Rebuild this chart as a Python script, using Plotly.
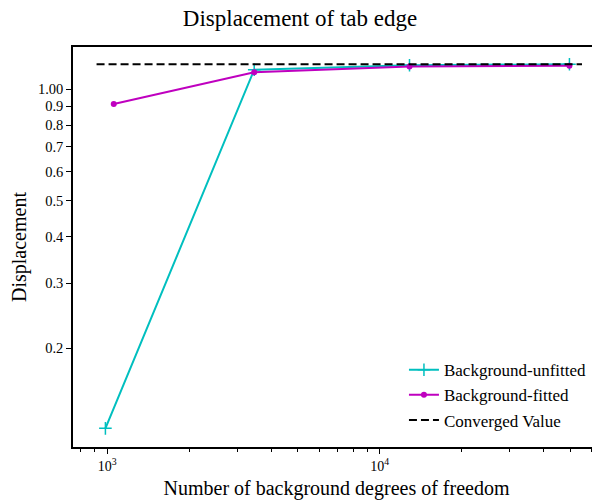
import plotly.graph_objects as go

# Data
unfitted_dof = [986, 3465, 12860, 49650]
unfitted_disp = [0.1217, 1.129, 1.161, 1.168]
fitted_dof = [1058, 3465, 12860, 49650]
fitted_disp = [0.913, 1.111, 1.151, 1.158]
converged_dof = [915, 55200]
converged_disp = [1.168, 1.168]

y_tickvals = [0.2, 0.3, 0.4, 0.5, 0.6, 0.7, 0.8, 0.9, 1.0]
y_ticktext = ["0.2", "0.3", "0.4", "0.5", "0.6", "0.7", "0.8", "0.9", "1.00"]
x_tickvals = [1000, 10000]
x_ticktext = ["10<sup>3</sup>", "10<sup>4</sup>"]
x_minor = [800, 900, 2000, 3000, 4000, 5000, 6000, 7000, 8000, 9000,
           20000, 30000, 40000, 50000, 60000]

FONT = "Liberation Serif"
CYAN = "#00BFBF"
MAGENTA = "#BF00BF"

fig = go.Figure()
fig.add_trace(go.Scatter(
    x=unfitted_dof, y=unfitted_disp, mode="lines+markers",
    name="Background-unfitted",
    line=dict(color=CYAN, width=2),
    marker=dict(symbol="cross-thin", size=9, line=dict(color=CYAN, width=1.5), color=CYAN),
))
fig.add_trace(go.Scatter(
    x=fitted_dof, y=fitted_disp, mode="lines+markers",
    name="Background-fitted",
    line=dict(color=MAGENTA, width=2),
    marker=dict(symbol="circle", size=6, color=MAGENTA),
))
fig.add_trace(go.Scatter(
    x=converged_dof, y=converged_disp, mode="lines",
    name="Converged Value",
    line=dict(color="black", width=2, dash="8px,4px"),
))

# The page body has an 8px margin, so everything is placed 8px up/left.
fig.update_layout(
    width=600, height=501,
    margin=dict(l=65, r=8, t=39, b=62, autoexpand=False),
    paper_bgcolor="white", plot_bgcolor="white",
    font=dict(family=FONT, color="black"),
    title=dict(text="Displacement of tab edge", x=292 / 600, xref="container",
               xanchor="center", y=1 - 10 / 501, yref="container", yanchor="middle",
               automargin=False,
               font=dict(family=FONT, size=23, color="black")),
    legend=dict(x=0.628, y=0.237, xanchor="left", yanchor="top",
                bgcolor="rgba(255,255,255,0)", borderwidth=0,
                font=dict(family=FONT, size=17, color="black")),
    showlegend=True,
)

fig.update_xaxes(
    type="log", range=[2.875, 4.808], automargin=False,
    showgrid=False, zeroline=False,
    showline=True, linecolor="black", linewidth=1.5, mirror=True,
    ticks="outside", ticklen=5, tickwidth=1, tickcolor="black",
    tickvals=x_tickvals, ticktext=x_ticktext,
    tickfont=dict(family=FONT, size=14, color="black"),
    minor=dict(tickvals=x_minor, ticks="outside", ticklen=3, tickwidth=1,
               tickcolor="black", showgrid=False),
    title=dict(text="Number of background degrees of freedom",
               font=dict(family=FONT, size=20, color="black"), standoff=8),
)
fig.update_yaxes(
    type="log", range=[-0.965, 0.114], automargin=False,
    showgrid=False, zeroline=False,
    showline=True, linecolor="black", linewidth=1.5, mirror=False,
    ticks="outside", ticklen=5, tickwidth=1, tickcolor="black",
    tickvals=y_tickvals, ticktext=y_ticktext,
    tickfont=dict(family=FONT, size=14.5, color="black"),
    title=dict(text="Displacement",
               font=dict(family=FONT, size=20, color="black"), standoff=6),
)

fig.write_html("out.html")
